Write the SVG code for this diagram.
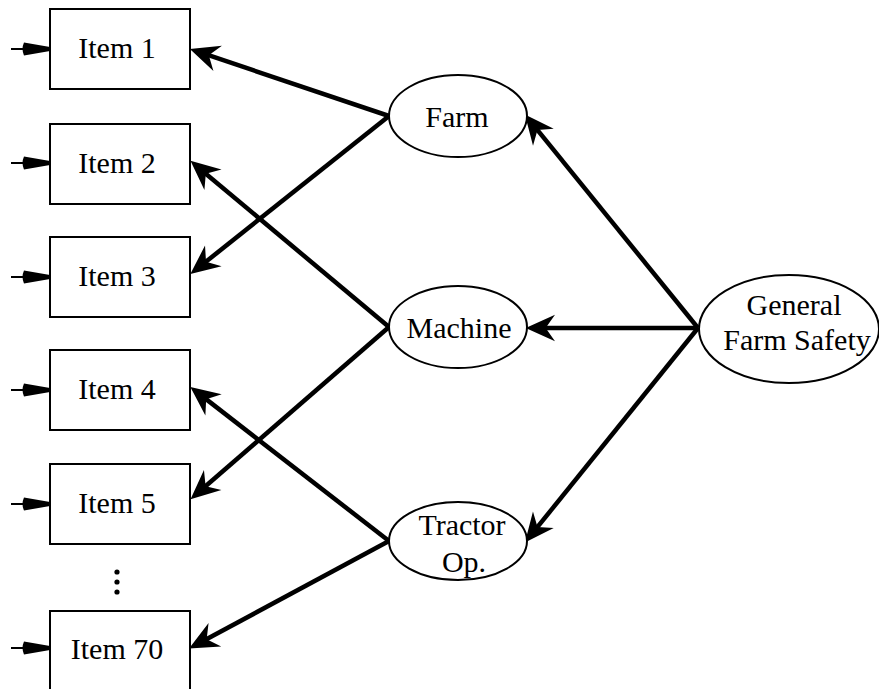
<svg xmlns="http://www.w3.org/2000/svg" width="879" height="689" viewBox="0 0 879 689">
<style>
.box{fill:#fff;stroke:#000;stroke-width:2}
.ell{fill:#fff;stroke:#000;stroke-width:2}
.t{font-family:"Liberation Serif","Times New Roman",serif;font-size:30px;fill:#000;text-anchor:middle}
.c{stroke:#000;stroke-width:4.5;fill:none;marker-end:url(#ah)}
.in{stroke:#000;stroke-width:2;fill:none}
.inh{fill:#000}
</style>
<defs>
<marker id="ah" markerUnits="userSpaceOnUse" orient="auto" refX="0" refY="0" markerWidth="40" markerHeight="40" viewBox="-15 -12 30 24" overflow="visible">
<path d="M10,0 L-12,-10 L-5,0 L-12,10 Z" fill="#000"/>
</marker>
</defs>
<g id="connectors">
<line class="c" x1="389" y1="116" x2="202.5" y2="53.2"/>
<line class="c" x1="389" y1="116" x2="200.8" y2="265.8"/>
<line class="c" x1="389" y1="327" x2="200.7" y2="169.4"/>
<line class="c" x1="389" y1="327" x2="200.6" y2="490.5"/>
<line class="c" x1="389" y1="541" x2="200.9" y2="395.1"/>
<line class="c" x1="389" y1="541" x2="200.8" y2="642.3"/>
<line class="c" x1="698" y1="328" x2="533.3" y2="124.8"/>
<line class="c" x1="698" y1="328" x2="539" y2="328"/>
<line class="c" x1="698" y1="328" x2="533.3" y2="532.2"/>
<g id="inputs">
<line class="in" x1="11" y1="49" x2="26" y2="49"/><path class="inh" d="M24,42.5 Q21,49 24,55.5 L50,51 L50,47 Z"/>
<line class="in" x1="11" y1="163" x2="26" y2="163"/><path class="inh" d="M24,156.5 Q21,163 24,169.5 L50,165 L50,161 Z"/>
<line class="in" x1="11" y1="277" x2="26" y2="277"/><path class="inh" d="M24,270.5 Q21,277 24,283.5 L50,279 L50,275 Z"/>
<line class="in" x1="11" y1="390" x2="26" y2="390"/><path class="inh" d="M24,383.5 Q21,390 24,396.5 L50,392 L50,388 Z"/>
<line class="in" x1="11" y1="504" x2="26" y2="504"/><path class="inh" d="M24,497.5 Q21,504 24,510.5 L50,506 L50,502 Z"/>
<line class="in" x1="11" y1="648" x2="26" y2="648"/><path class="inh" d="M24,641.5 Q21,648 24,654.5 L50,650 L50,646 Z"/>
</g>
</g>
<g id="item1"><rect class="box" x="50" y="9" width="140" height="80"/><text class="t" x="117" y="58">Item 1</text></g>
<g id="item2"><rect class="box" x="50" y="124" width="140" height="80"/><text class="t" x="117" y="173">Item 2</text></g>
<g id="item3"><rect class="box" x="50" y="237" width="140" height="80"/><text class="t" x="117" y="286">Item 3</text></g>
<g id="item4"><rect class="box" x="50" y="350" width="140" height="80"/><text class="t" x="117" y="399">Item 4</text></g>
<g id="item5"><rect class="box" x="50" y="464" width="140" height="80"/><text class="t" x="117" y="513">Item 5</text></g>
<g id="dots"><circle cx="117" cy="572" r="2.6"/><circle cx="117" cy="582" r="2.6"/><circle cx="117" cy="592" r="2.6"/></g>
<g id="item70"><rect class="box" x="50" y="611" width="140" height="80"/><text class="t" x="117" y="659">Item 70</text></g>
<g id="farm"><ellipse class="ell" cx="458" cy="116" rx="69" ry="41"/><text class="t" x="457" y="127">Farm</text></g>
<g id="machine"><ellipse class="ell" cx="458" cy="327" rx="69" ry="41"/><text class="t" x="459" y="338">Machine</text></g>
<g id="tractor"><ellipse class="ell" cx="458" cy="541" rx="69" ry="39"/><text class="t" x="462" y="535">Tractor</text><text class="t" x="464" y="572">Op.</text></g>
<g id="gfs"><ellipse class="ell" cx="789" cy="329" rx="90" ry="54"/><text class="t" x="794" y="315">General</text><text class="t" x="797" y="350">Farm Safety</text></g>
</svg>
